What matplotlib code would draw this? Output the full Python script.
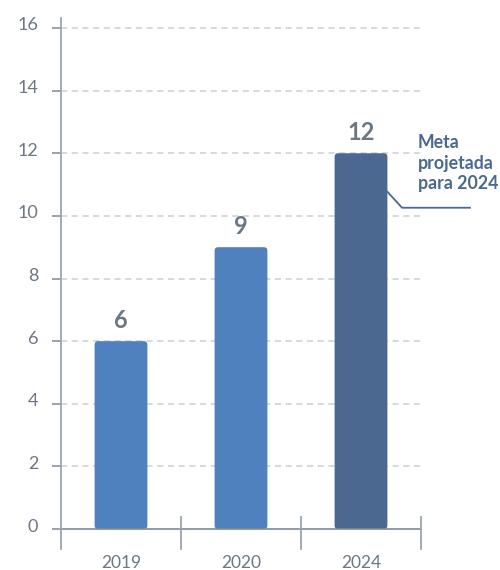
import matplotlib
matplotlib.use("Agg")
import matplotlib.pyplot as plt
from matplotlib.patches import FancyBboxPatch
import matplotlib.transforms as mtransforms

plt.rcParams['font.family'] = ['Lato', 'DejaVu Sans']

categories = ['2019', '2020', '2024']
values = [6, 9, 12]
bar_colors = ['#4f81bf', '#4f81bf', '#4a6890']
yticks = [0, 2, 4, 6, 8, 10, 12, 14, 16]
annotation = 'Meta\nprojetada\npara 2024'

fig = plt.figure(figsize=(5, 5.7), dpi=100)
ax = fig.add_axes([0.122, 0.0719, 0.72, 0.879])
ax.set_xlim(-0.5, 2.5)
ax.set_ylim(0, 16)

grid_c = '#c9d0d8'
axis_c = '#7f8a96'
text_c = '#6b7785'

for y in yticks[1:]:
    ax.plot([-0.5, 2.5], [y, y], color=grid_c, lw=1.1, ls=(0, (4, 3)), zorder=1, clip_on=False)
ax.plot([-0.5, 2.5], [0, 0], color=axis_c, lw=1.2, zorder=4, clip_on=False)

width = 0.44
for i, (v, c) in enumerate(zip(values, bar_colors)):
    p = FancyBboxPatch((i - width / 2, 0), width, v,
                       boxstyle="round,pad=0,rounding_size=0.03",
                       mutation_aspect=3.8, fc=c, ec='none', zorder=3)
    ax.add_patch(p)
    ax.text(i, v + 0.28, str(v), ha='center', va='bottom', fontsize=17,
            fontweight='bold', color=text_c, zorder=5)

# axis lines and separators
ax.plot([-0.5, -0.5], [-0.65, 16.33], color='#9aa5b0', lw=1.3, clip_on=False, zorder=4)
for xs in [0.5, 1.5, 2.5]:
    ax.plot([xs, xs], [0.38, -0.65], color='#9aa5b0', lw=1.3, clip_on=False, zorder=4)

for s in ax.spines.values():
    s.set_visible(False)

ax.set_yticks(yticks)
ax.set_yticklabels([str(t) for t in yticks])
ax.tick_params(axis='y', length=6.5, width=1.1, color=axis_c, pad=10,
               labelsize=13, labelcolor=text_c)
offset = mtransforms.ScaledTranslation(0, 4 / 100, fig.dpi_scale_trans)
for lab in ax.get_yticklabels():
    lab.set_transform(lab.get_transform() + offset)

ax.set_xticks(range(len(categories)))
ax.set_xticklabels(categories)
ax.tick_params(axis='x', length=0, pad=18.5, labelsize=12.5, labelcolor=text_c)

# annotation
ann_c = '#4a6890'
ax.plot([2 + width / 2, 2.342, 2.908], [10.77, 10.26, 10.26], color=ann_c, lw=1.3,
        clip_on=False, zorder=5)
ax.text(2.475, 12.6, annotation, ha='left', va='top', fontsize=12.8,
        fontweight='bold', color=ann_c, linespacing=1.22, clip_on=False)

fig.savefig('out.png', dpi=100)
